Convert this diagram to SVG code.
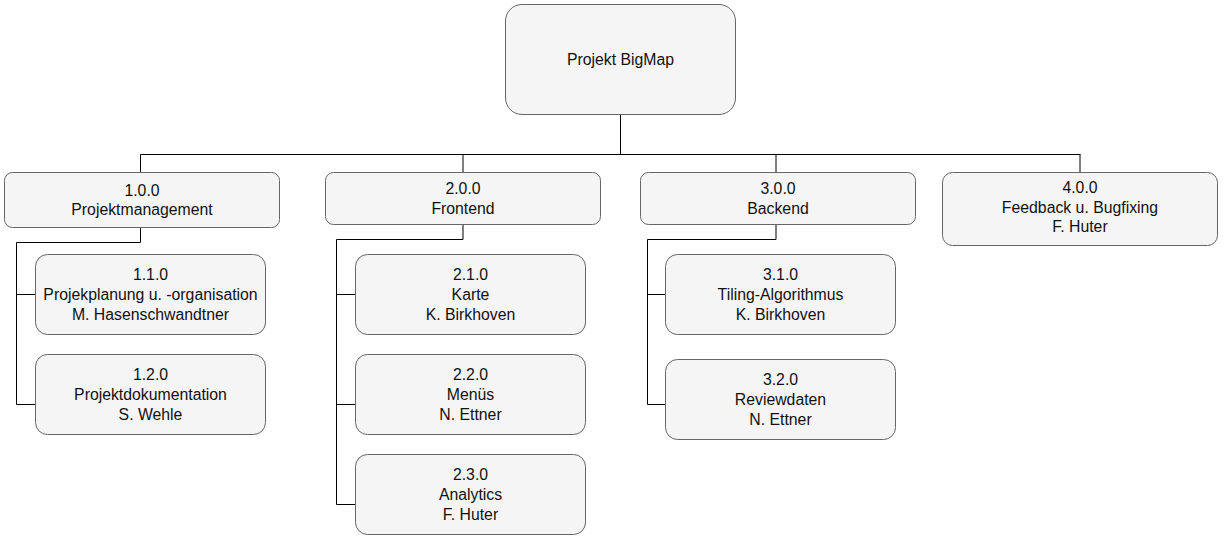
<svg xmlns="http://www.w3.org/2000/svg" width="1225" height="543" viewBox="0 0 1225 543">
<style>
  .box { fill: #f5f5f5; stroke: #666666; stroke-width: 1; }
  .t { font-family: "Liberation Sans", Arial, sans-serif; font-size: 15.8px; fill: #111111; text-anchor: middle; }
  .c { fill: none; stroke: #000000; stroke-width: 1; }
</style>
<rect width="1225" height="543" fill="#ffffff"/>
<g id="connectors">
  <path class="c" d="M620.5 114.5 V154.5"/>
  <path class="c" d="M140.5 154.5 H1080.5"/>
  <path class="c" d="M140.5 154.5 V172.5"/>
  <path class="c" d="M463 154.5 V172.5"/>
  <path class="c" d="M776 154.5 V172.5"/>
  <path class="c" d="M1080 154.5 V172.5"/>
  <path class="c" d="M140.5 227.5 V242.5 H16.5 V404.5 H35.5"/>
  <path class="c" d="M16.5 294.5 H35.5"/>
  <path class="c" d="M463 224.5 V239.5 H336.5 V504.5 H355.5"/>
  <path class="c" d="M336.5 294.5 H355.5"/>
  <path class="c" d="M336.5 404.5 H355.5"/>
  <path class="c" d="M776 224.5 V239.5 H647.5 V404.5 H665.5"/>
  <path class="c" d="M647.5 294.5 H665.5"/>
</g>
<g id="root">
  <rect class="box" x="505.5" y="4.5" width="230" height="110" rx="16.5"/>
  <text class="t" x="620.5" y="65">Projekt BigMap</text>
</g>
<g id="n100">
  <rect class="box" x="4.5" y="172.5" width="275" height="55" rx="8"/>
  <text class="t" x="142" y="195.5">1.0.0</text>
  <text class="t" x="142" y="215">Projektmanagement</text>
</g>
<g id="n200">
  <rect class="box" x="325.5" y="172.5" width="275" height="52" rx="8"/>
  <text class="t" x="463" y="194">2.0.0</text>
  <text class="t" x="463" y="213.5">Frontend</text>
</g>
<g id="n300">
  <rect class="box" x="640.5" y="172.5" width="275" height="52" rx="8"/>
  <text class="t" x="778" y="194">3.0.0</text>
  <text class="t" x="778" y="213.5">Backend</text>
</g>
<g id="n400">
  <rect class="box" x="942.5" y="172.5" width="275" height="73" rx="10"/>
  <text class="t" x="1080" y="193">4.0.0</text>
  <text class="t" x="1080" y="212.5">Feedback u. Bugfixing</text>
  <text class="t" x="1080" y="232">F. Huter</text>
</g>
<g id="n110">
  <rect class="box" x="35.5" y="254.5" width="230" height="80" rx="12"/>
  <text class="t" x="150.5" y="280">1.1.0</text>
  <text class="t" x="150.5" y="300">Projekplanung u. -organisation</text>
  <text class="t" x="150.5" y="320">M. Hasenschwandtner</text>
</g>
<g id="n120">
  <rect class="box" x="35.5" y="354.5" width="230" height="80" rx="12"/>
  <text class="t" x="150.5" y="380">1.2.0</text>
  <text class="t" x="150.5" y="400">Projektdokumentation</text>
  <text class="t" x="150.5" y="420">S. Wehle</text>
</g>
<g id="n210">
  <rect class="box" x="355.5" y="254.5" width="230" height="80" rx="12"/>
  <text class="t" x="470.5" y="280">2.1.0</text>
  <text class="t" x="470.5" y="300">Karte</text>
  <text class="t" x="470.5" y="320">K. Birkhoven</text>
</g>
<g id="n220">
  <rect class="box" x="355.5" y="354.5" width="230" height="80" rx="12"/>
  <text class="t" x="470.5" y="380">2.2.0</text>
  <text class="t" x="470.5" y="400">Menüs</text>
  <text class="t" x="470.5" y="420">N. Ettner</text>
</g>
<g id="n230">
  <rect class="box" x="355.5" y="454.5" width="230" height="80" rx="12"/>
  <text class="t" x="470.5" y="480">2.3.0</text>
  <text class="t" x="470.5" y="500">Analytics</text>
  <text class="t" x="470.5" y="520">F. Huter</text>
</g>
<g id="n310">
  <rect class="box" x="665.5" y="254.5" width="230" height="80" rx="12"/>
  <text class="t" x="780.5" y="280">3.1.0</text>
  <text class="t" x="780.5" y="300">Tiling-Algorithmus</text>
  <text class="t" x="780.5" y="320">K. Birkhoven</text>
</g>
<g id="n320">
  <rect class="box" x="665.5" y="359.5" width="230" height="80" rx="12"/>
  <text class="t" x="780.5" y="385">3.2.0</text>
  <text class="t" x="780.5" y="405">Reviewdaten</text>
  <text class="t" x="780.5" y="425">N. Ettner</text>
</g>
</svg>
